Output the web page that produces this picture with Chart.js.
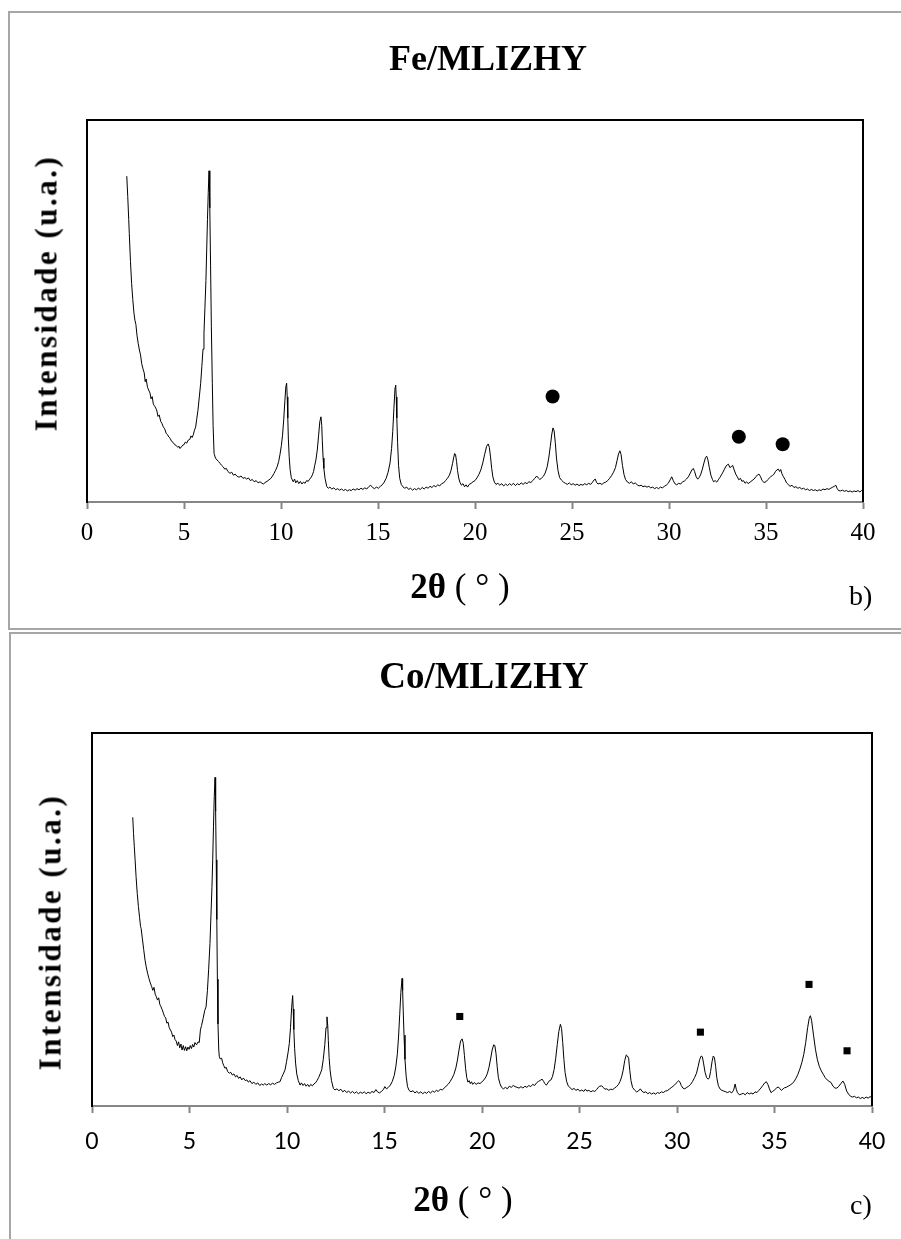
<!DOCTYPE html>
<html lang="pt">
<head>
<meta charset="utf-8">
<title>DRX Fe/MLIZHY e Co/MLIZHY</title>
<script src="https://cdn.jsdelivr.net/npm/chart.js@4.4.1/dist/chart.umd.min.js"></script>
<style>
  html, body { margin: 0; padding: 0; background: #fff; }
  body { position: relative; width: 901px; height: 1239px; overflow: hidden; }
  .frame { position: absolute; box-sizing: border-box; border: 2px solid #a6a6a6; border-right: none; }
  .wrap { position: absolute; left: 0; width: 901px; }
  .txt { position: absolute; font-family: "Liberation Serif", "Times New Roman", serif; color: #000;
         line-height: 1; white-space: nowrap; transform: translate(-50%, -50%); }
  .title { font-weight: bold; }
  .xlab { font-size: 35px; }
  .xlab b { font-weight: bold; }
  .ylab { font-size: 31px; font-weight: bold; letter-spacing: 2.5px; transform: translate(-50%, -50%) rotate(-90deg); }
  .tag { position: absolute; font-family: "Liberation Serif", serif; font-size: 28px; line-height: 28px; color: #000; }
</style>
</head>
<body>
<div class="frame" style="left:8px; top:11px; width:900px; height:619px;"></div>
<div class="frame" style="left:9px; top:632px; width:900px; height:640px;"></div>
<div class="wrap" style="top:0; height:630px;"><canvas id="chart-fe"></canvas></div>
<div class="wrap" style="top:630px; height:609px;"><canvas id="chart-co"></canvas></div>

<div class="txt title" style="left:488px; top:58px; font-size:36px;">Fe/MLIZHY</div>
<div class="txt ylab" style="left:46px; top:293px;">Intensidade (u.a.)</div>
<div class="txt xlab" style="left:460px; top:586px;"><b>2θ</b> ( ° )</div>
<div class="tag" style="left:849px; top:582px;">b)</div>

<div class="txt title" style="left:484px; top:675px; font-size:37px;">Co/MLIZHY</div>
<div class="txt ylab" style="left:50px; top:932px;">Intensidade (u.a.)</div>
<div class="txt xlab" style="left:463px; top:1199px;"><b>2θ</b> ( ° )</div>
<div class="tag" style="left:850px; top:1191px;">c)</div>

<script>
// 2θ (graus) e intensidade relativa (0 = eixo, 100 = topo da área do gráfico)
const feScan = [
  [2.05, 85.3], [2.10, 80], [2.15, 74], [2.18, 70.3], [2.24, 63], [2.30, 57.2], [2.36, 53], [2.42, 49.5],
  [2.47, 47.6], [2.52, 46.5], [2.58, 43.5], [2.64, 41.5], [2.70, 39.8], [2.76, 38.5], [2.82, 36.2], [2.90, 34.6],
  [2.95, 33.8], [3.00, 31.5], [3.05, 32.2], [3.12, 30.0], [3.18, 29.3], [3.25, 28.5], [3.30, 27.0], [3.36, 27.6],
  [3.42, 25.6], [3.50, 25.0], [3.59, 24.1], [3.66, 22.4], [3.72, 22.8], [3.80, 21.1], [3.86, 20.6], [3.93, 19.7],
  [4.00, 19.2], [4.08, 18.0], [4.15, 17.6], [4.22, 17.0], [4.28, 16.7], [4.36, 15.9], [4.44, 15.6], [4.52, 15.0],
  [4.60, 14.8], [4.68, 14.3], [4.74, 14.6], [4.79, 14.0], [4.86, 14.4], [4.94, 14.9], [5.00, 15.0], [5.07, 15.7],
  [5.14, 15.4], [5.22, 16.2], [5.30, 16.4], [5.36, 17.3], [5.42, 16.9], [5.48, 17.6], [5.54, 18.8], [5.60, 19.6],
  [5.65, 21.5], [5.72, 24.0], [5.79, 27.5], [5.86, 31.1], [5.92, 35.5], [5.98, 40.0], [6.03, 44.2], [6.08, 51],
  [6.13, 58], [6.17, 66.0], [6.21, 74], [6.25, 81], [6.29, 86.7], [6.33, 77], [6.37, 62], [6.41, 46],
  [6.46, 31.1], [6.50, 20], [6.55, 12.7], [6.62, 11.5], [6.70, 11.0], [6.78, 10.6], [6.86, 10.1], [6.94, 9.6],
  [7.02, 9.2], [7.10, 8.6], [7.18, 8.8], [7.26, 8.0], [7.37, 7.5], [7.46, 7.8], [7.55, 7.0], [7.64, 7.3],
  [7.74, 6.7], [7.84, 6.5], [7.94, 6.8], [8.04, 6.2], [8.14, 6.4], [8.23, 6.0], [8.32, 6.3], [8.42, 5.6],
  [8.52, 5.9], [8.62, 5.3], [8.72, 5.6], [8.82, 5.0], [8.92, 5.3], [9.02, 4.9], [9.09, 4.7], [9.18, 5.1],
  [9.28, 5.4], [9.38, 5.8], [9.48, 6.2], [9.56, 6.8], [9.64, 7.5], [9.72, 8.3], [9.80, 9.2], [9.88, 10.6],
  [9.95, 12.5], [10.02, 14.8], [10.08, 17.5], [10.14, 21.5], [10.20, 26.5], [10.25, 30.2], [10.29, 31.1], [10.32, 27.5],
  [10.35, 22], [10.38, 16.5], [10.42, 12], [10.47, 8.5], [10.53, 6.4], [10.58, 5.8], [10.63, 5.3], [10.70, 6.0], [10.76, 5.0],
  [10.84, 5.6], [10.92, 4.8], [11.00, 5.4], [11.08, 4.7], [11.16, 5.2], [11.24, 4.9], [11.32, 5.6], [11.40, 5.4],
  [11.48, 6.0], [11.56, 6.5], [11.62, 7.1], [11.68, 8.0], [11.74, 9.6], [11.80, 11.0], [11.87, 13.6], [11.94, 17.5],
  [12.00, 21.0], [12.06, 22.3], [12.10, 20.0], [12.13, 16], [12.17, 11.5], [12.21, 8.8], [12.27, 6.2], [12.36, 4.0],
  [12.44, 3.6], [12.52, 3.9], [12.62, 3.4], [12.72, 3.7], [12.82, 3.2], [12.92, 3.5], [13.02, 3.1], [13.12, 3.4],
  [13.22, 3.0], [13.32, 3.3], [13.42, 2.9], [13.52, 3.2], [13.62, 3.0], [13.72, 3.4], [13.82, 3.1], [13.92, 3.5],
  [14.02, 3.2], [14.12, 3.6], [14.22, 3.3], [14.32, 3.7], [14.42, 3.4], [14.52, 4.0], [14.62, 4.4], [14.72, 3.8],
  [14.82, 3.5], [14.92, 3.9], [15.02, 3.6], [15.12, 4.1], [15.22, 4.5], [15.32, 5.2], [15.42, 6.2], [15.52, 7.8],
  [15.62, 10.2], [15.70, 14.0], [15.76, 18.5], [15.82, 24.5], [15.88, 30.0], [15.91, 30.6], [15.94, 27.5], [15.97, 22],
  [16.01, 15.5], [16.06, 9.5], [16.12, 6.2], [16.20, 4.6], [16.28, 4.0], [16.38, 3.6], [16.48, 3.9], [16.58, 3.3],
  [16.68, 3.6], [16.78, 3.1], [16.88, 3.5], [16.98, 3.2], [17.08, 3.6], [17.18, 3.3], [17.28, 3.8], [17.38, 3.4],
  [17.48, 3.9], [17.58, 3.6], [17.68, 4.1], [17.78, 3.8], [17.88, 4.3], [17.98, 4.0], [18.08, 4.5], [18.18, 4.2],
  [18.28, 4.8], [18.38, 5.0], [18.48, 5.6], [18.58, 6.2], [18.68, 7.0], [18.76, 8.2], [18.84, 10.0], [18.90, 11.6],
  [18.95, 12.7], [19.00, 12.3], [19.05, 10.6], [19.10, 8.2], [19.16, 6.3], [19.22, 5.2], [19.30, 4.4], [19.38, 4.8],
  [19.46, 4.0], [19.54, 4.5], [19.62, 3.9], [19.70, 4.6], [19.80, 4.9], [19.90, 5.3], [20.00, 5.6], [20.10, 6.3],
  [20.20, 7.2], [20.30, 8.4], [20.40, 10.2], [20.50, 12.5], [20.60, 14.6], [20.68, 15.2], [20.74, 14.3], [20.80, 11.8],
  [20.86, 8.8], [20.92, 6.6], [21.00, 5.2], [21.08, 4.6], [21.18, 4.9], [21.28, 4.4], [21.38, 4.8], [21.48, 4.2],
  [21.58, 4.7], [21.68, 4.3], [21.78, 4.8], [21.88, 4.4], [21.98, 4.9], [22.08, 4.3], [22.18, 4.8], [22.28, 4.5],
  [22.38, 5.0], [22.48, 4.6], [22.58, 5.1], [22.68, 4.8], [22.78, 5.3], [22.88, 5.1], [22.98, 5.6], [23.08, 6.2],
  [23.18, 6.8], [23.26, 6.3], [23.34, 5.9], [23.42, 6.2], [23.52, 6.7], [23.62, 7.6], [23.72, 9.2], [23.80, 11.5],
  [23.88, 14.5], [23.96, 17.8], [24.02, 19.4], [24.08, 18.6], [24.14, 15.5], [24.20, 11.5], [24.28, 8.2], [24.36, 6.4],
  [24.46, 5.7], [24.56, 5.2], [24.66, 4.9], [24.76, 4.6], [24.86, 5.0], [24.96, 4.5], [25.06, 4.8], [25.16, 4.4],
  [25.26, 4.7], [25.36, 4.3], [25.46, 4.6], [25.56, 4.4], [25.66, 4.8], [25.76, 4.5], [25.86, 4.9], [25.96, 4.6],
  [26.06, 5.2], [26.14, 5.8], [26.20, 6.0], [26.26, 5.2], [26.34, 4.7], [26.44, 4.9], [26.54, 4.6], [26.64, 5.0],
  [26.74, 5.2], [26.84, 5.6], [26.94, 6.2], [27.04, 6.9], [27.14, 7.8], [27.24, 9.0], [27.32, 10.8], [27.40, 12.6],
  [27.47, 13.4], [27.53, 12.4], [27.60, 9.6], [27.68, 7.2], [27.76, 5.9], [27.86, 5.2], [27.96, 4.9], [28.06, 5.3],
  [28.16, 4.7], [28.26, 5.0], [28.36, 4.5], [28.46, 4.2], [28.56, 4.4], [28.66, 4.0], [28.76, 4.2], [28.86, 3.9],
  [28.96, 4.1], [29.06, 3.7], [29.16, 3.9], [29.26, 3.5], [29.36, 3.8], [29.46, 3.5], [29.56, 3.9], [29.66, 3.7],
  [29.76, 4.1], [29.86, 4.4], [29.96, 4.9], [30.06, 5.8], [30.14, 6.6], [30.22, 5.6], [30.30, 4.8], [30.40, 4.5],
  [30.50, 4.9], [30.60, 4.7], [30.70, 5.3], [30.80, 5.5], [30.90, 6.0], [31.00, 6.6], [31.10, 7.6], [31.18, 8.4],
  [31.25, 8.8], [31.32, 8.0], [31.40, 6.6], [31.48, 6.0], [31.56, 6.4], [31.64, 7.3], [31.72, 8.6], [31.80, 10.2],
  [31.88, 11.6], [31.94, 12.0], [32.00, 11.2], [32.08, 9.0], [32.16, 7.0], [32.24, 5.9], [32.30, 5.3], [32.38, 5.6],
  [32.46, 5.2], [32.54, 5.8], [32.62, 6.4], [32.70, 7.1], [32.78, 7.8], [32.86, 8.6], [32.94, 9.4], [33.00, 9.7],
  [33.06, 9.9], [33.14, 9.0], [33.20, 9.2], [33.28, 9.6], [33.36, 8.4], [33.44, 7.3], [33.52, 6.6], [33.60, 5.8],
  [33.68, 6.2], [33.76, 5.4], [33.84, 5.6], [33.92, 4.9], [34.00, 5.3], [34.08, 4.8], [34.18, 5.2], [34.28, 5.6],
  [34.38, 6.0], [34.48, 6.6], [34.56, 7.1], [34.64, 7.3], [34.72, 6.6], [34.80, 5.6], [34.90, 5.1], [35.00, 5.3],
  [35.08, 5.8], [35.16, 6.2], [35.24, 6.6], [35.32, 6.9], [35.40, 7.2], [35.48, 7.9], [35.56, 8.4], [35.64, 8.6],
  [35.70, 8.0], [35.76, 8.5], [35.82, 7.4], [35.90, 6.6], [35.98, 5.9], [36.06, 5.0], [36.14, 4.6], [36.24, 4.1],
  [36.34, 4.4], [36.44, 3.8], [36.54, 4.0], [36.64, 3.6], [36.74, 3.8], [36.84, 3.4], [36.94, 3.6], [37.04, 3.2],
  [37.14, 3.4], [37.24, 3.0], [37.34, 3.3], [37.44, 3.0], [37.54, 3.2], [37.64, 2.9], [37.74, 3.2], [37.84, 3.0],
  [37.94, 3.4], [38.04, 3.2], [38.14, 3.5], [38.24, 3.3], [38.34, 3.6], [38.44, 3.9], [38.52, 4.1], [38.60, 4.4],
  [38.66, 3.6], [38.74, 3.0], [38.84, 2.9], [38.94, 3.1], [39.04, 2.8], [39.14, 3.0], [39.24, 2.7], [39.34, 2.9],
  [39.44, 2.6], [39.54, 2.9], [39.64, 2.7], [39.74, 3.0], [39.84, 2.6], [39.92, 3.0], [40.00, 2.8],
];

const coScan = [
  [2.09, 77.4], [2.13, 73], [2.17, 69.5], [2.21, 66.0], [2.26, 61.5], [2.32, 57.0], [2.38, 53.5], [2.44, 50.5],
  [2.49, 48.1], [2.52, 47.6], [2.58, 45.0], [2.65, 42.0], [2.72, 39.1], [2.78, 37.3], [2.85, 35.6], [2.92, 34.2],
  [2.99, 33.0], [3.06, 32.0], [3.12, 31.0], [3.18, 31.8], [3.24, 30.0], [3.30, 29.3], [3.36, 28.4], [3.42, 29.0],
  [3.48, 27.2], [3.54, 26.6], [3.60, 25.8], [3.66, 24.9], [3.72, 24.0], [3.78, 23.6], [3.84, 22.2], [3.90, 22.5],
  [3.96, 21.0], [4.02, 20.4], [4.08, 19.8], [4.14, 18.6], [4.20, 19.0], [4.26, 17.8], [4.32, 17.4], [4.38, 16.2],
  [4.44, 17.2], [4.50, 15.6], [4.56, 16.6], [4.62, 15.0], [4.68, 16.2], [4.74, 14.9], [4.80, 15.9], [4.86, 14.8],
  [4.92, 15.8], [4.98, 15.2], [5.04, 16.2], [5.10, 15.4], [5.16, 16.5], [5.22, 15.8], [5.28, 17.0], [5.36, 16.4],
  [5.44, 17.2], [5.50, 17.0], [5.56, 20.4], [5.62, 21.6], [5.70, 23.5], [5.78, 25.6], [5.85, 26.6], [5.92, 31.0],
  [5.98, 36.5], [6.05, 43.6], [6.10, 51.0], [6.15, 58.5], [6.19, 66.0], [6.23, 75], [6.27, 83], [6.31, 88.1],
  [6.34, 79], [6.37, 66], [6.40, 50], [6.43, 34], [6.46, 22], [6.50, 15.0], [6.53, 13.2], [6.58, 12.6],
  [6.65, 12.8], [6.70, 11.6], [6.76, 10.8], [6.82, 10.1], [6.88, 10.4], [6.96, 9.2], [7.04, 8.8], [7.12, 9.0],
  [7.20, 8.3], [7.28, 8.6], [7.36, 7.8], [7.44, 8.2], [7.52, 7.4], [7.60, 7.8], [7.68, 7.0], [7.76, 7.5],
  [7.86, 6.8], [7.94, 7.0], [8.02, 6.4], [8.10, 6.8], [8.20, 6.0], [8.30, 6.4], [8.40, 5.8], [8.50, 6.2],
  [8.60, 5.5], [8.70, 5.9], [8.78, 5.6], [8.86, 6.0], [8.96, 5.6], [9.06, 6.0], [9.16, 5.7], [9.26, 6.1],
  [9.36, 5.8], [9.46, 6.2], [9.56, 6.4], [9.64, 6.5], [9.72, 7.6], [9.80, 8.5], [9.90, 9.7], [9.98, 12],
  [10.06, 14.5], [10.12, 16.8], [10.18, 21], [10.24, 26.5], [10.29, 29.6], [10.32, 26], [10.35, 20.5], [10.39, 15.5],
  [10.44, 11.5], [10.50, 8.6], [10.58, 6.8], [10.67, 5.6], [10.74, 6.2], [10.82, 5.5], [10.90, 6.0], [10.98, 5.3],
  [11.06, 5.8], [11.14, 5.2], [11.22, 5.8], [11.30, 5.4], [11.38, 5.9], [11.46, 6.2], [11.54, 6.8], [11.62, 7.6],
  [11.70, 8.6], [11.78, 9.7], [11.86, 12.5], [11.94, 16.5], [12.00, 21], [12.05, 23.9], [12.09, 21.5], [12.12, 17.5],
  [12.16, 13], [12.21, 9.6], [12.28, 6.8], [12.38, 4.7], [12.46, 4.3], [12.56, 4.6], [12.66, 4.1], [12.76, 4.5],
  [12.86, 3.8], [12.96, 4.2], [13.06, 3.6], [13.16, 4.0], [13.26, 3.5], [13.36, 3.9], [13.46, 3.4], [13.56, 3.8],
  [13.66, 3.3], [13.76, 3.7], [13.86, 3.4], [13.96, 3.8], [14.06, 3.3], [14.16, 3.7], [14.26, 3.4], [14.36, 3.9],
  [14.46, 3.6], [14.56, 4.4], [14.64, 3.8], [14.74, 3.5], [14.84, 3.9], [14.94, 4.4], [15.02, 5.2], [15.10, 4.6],
  [15.20, 5.0], [15.30, 5.6], [15.40, 6.6], [15.50, 8.2], [15.58, 10.5], [15.66, 14.0], [15.72, 18.5], [15.78, 24.5],
  [15.84, 30.5], [15.90, 34.2], [15.93, 31], [15.96, 25.5], [16.00, 19], [16.05, 12.5], [16.11, 8], [16.18, 5.2],
  [16.26, 4.2], [16.36, 3.8], [16.46, 4.1], [16.56, 3.5], [16.66, 3.9], [16.76, 3.4], [16.86, 3.8], [16.96, 3.3],
  [17.06, 3.7], [17.16, 3.4], [17.26, 3.9], [17.36, 3.5], [17.46, 4.0], [17.56, 3.7], [17.66, 4.2], [17.76, 3.9],
  [17.86, 4.5], [17.96, 4.3], [18.06, 4.8], [18.16, 5.3], [18.26, 5.8], [18.36, 6.5], [18.46, 7.4], [18.56, 8.5],
  [18.66, 10.2], [18.74, 12.3], [18.82, 15.0], [18.90, 17.4], [18.98, 18.0], [19.04, 16.8], [19.10, 13.5], [19.16, 10.0],
  [19.22, 7.6], [19.28, 6.4], [19.34, 6.8], [19.40, 6.0], [19.46, 6.5], [19.52, 5.8], [19.60, 6.3], [19.70, 5.8],
  [19.80, 6.2], [19.90, 6.0], [20.00, 6.5], [20.10, 7.0], [20.20, 7.8], [20.28, 8.8], [20.36, 10.4], [20.44, 12.6],
  [20.52, 15.0], [20.60, 16.4], [20.66, 16.2], [20.72, 14.0], [20.78, 10.5], [20.84, 7.6], [20.92, 6.0], [21.00, 5.0],
  [21.10, 4.6], [21.20, 5.0], [21.30, 4.6], [21.40, 5.3], [21.50, 5.0], [21.60, 5.5], [21.70, 5.2], [21.80, 5.0],
  [21.90, 4.8], [22.00, 5.2], [22.10, 4.8], [22.20, 5.3], [22.30, 5.0], [22.40, 5.5], [22.50, 5.2], [22.60, 5.8],
  [22.70, 5.5], [22.80, 6.2], [22.90, 6.6], [23.00, 6.9], [23.08, 7.2], [23.16, 6.6], [23.22, 6.0], [23.30, 5.6],
  [23.38, 6.2], [23.46, 6.8], [23.54, 7.0], [23.62, 8.0], [23.70, 9.8], [23.78, 12.8], [23.86, 16.5], [23.94, 20.0],
  [24.02, 21.9], [24.08, 20.8], [24.14, 17.0], [24.20, 12.5], [24.26, 9.0], [24.34, 6.6], [24.42, 5.4], [24.52, 4.9],
  [24.62, 4.4], [24.72, 4.7], [24.82, 4.2], [24.92, 4.5], [25.02, 4.0], [25.12, 4.3], [25.22, 3.9], [25.30, 4.5],
  [25.38, 4.0], [25.48, 4.2], [25.58, 3.8], [25.68, 4.1], [25.78, 3.9], [25.88, 4.4], [25.96, 5.0], [26.04, 5.3],
  [26.14, 5.4], [26.22, 5.0], [26.30, 4.5], [26.40, 4.6], [26.50, 4.2], [26.60, 4.5], [26.70, 4.4], [26.80, 4.8],
  [26.90, 5.2], [27.00, 5.8], [27.08, 6.6], [27.16, 7.8], [27.24, 9.6], [27.32, 12.2], [27.40, 13.7], [27.46, 13.4],
  [27.52, 12.8], [27.58, 9.5], [27.64, 6.8], [27.72, 5.0], [27.82, 4.3], [27.92, 3.8], [28.02, 4.0], [28.12, 4.6],
  [28.20, 4.0], [28.30, 3.6], [28.40, 3.8], [28.50, 3.3], [28.60, 3.6], [28.70, 3.2], [28.80, 3.5], [28.90, 3.2],
  [29.00, 3.6], [29.10, 3.4], [29.20, 3.8], [29.30, 3.6], [29.40, 4.0], [29.50, 4.1], [29.60, 4.5], [29.70, 4.9],
  [29.80, 5.3], [29.90, 5.8], [30.00, 6.3], [30.08, 6.8], [30.14, 6.5], [30.22, 5.5], [30.30, 4.8], [30.40, 4.6],
  [30.50, 5.0], [30.60, 5.3], [30.70, 5.8], [30.80, 6.6], [30.90, 7.6], [31.00, 8.8], [31.08, 10.5], [31.16, 12.4],
  [31.24, 13.4], [31.30, 13.2], [31.36, 11.5], [31.44, 9.0], [31.52, 7.6], [31.60, 7.2], [31.66, 7.6], [31.72, 9.2],
  [31.80, 12.0], [31.86, 13.4], [31.92, 13.0], [31.98, 10.6], [32.04, 7.6], [32.12, 5.5], [32.20, 4.6], [32.30, 4.2],
  [32.40, 4.0], [32.50, 3.8], [32.60, 3.6], [32.70, 3.9], [32.80, 3.5], [32.90, 4.2], [32.98, 5.9], [33.04, 4.5],
  [33.10, 3.6], [33.20, 3.0], [33.30, 3.2], [33.40, 3.4], [33.50, 3.0], [33.60, 3.6], [33.70, 3.2], [33.80, 3.5],
  [33.90, 3.2], [34.00, 3.8], [34.10, 3.6], [34.20, 4.2], [34.30, 4.8], [34.40, 5.5], [34.50, 6.2], [34.58, 6.5],
  [34.66, 5.8], [34.74, 4.6], [34.82, 3.6], [34.90, 3.9], [35.00, 4.3], [35.10, 4.8], [35.20, 5.1], [35.28, 4.6],
  [35.36, 4.2], [35.44, 4.6], [35.52, 4.9], [35.60, 5.0], [35.70, 5.3], [35.80, 5.6], [35.90, 6.0], [36.00, 6.5],
  [36.10, 7.4], [36.20, 8.5], [36.30, 9.9], [36.40, 11.6], [36.50, 13.8], [36.60, 17.0], [36.70, 21.0], [36.78, 23.5],
  [36.84, 24.2], [36.90, 23.0], [37.00, 19.0], [37.10, 15.2], [37.20, 12.4], [37.30, 10.6], [37.40, 9.4], [37.50, 8.5],
  [37.60, 7.6], [37.70, 7.0], [37.80, 6.6], [37.90, 6.3], [38.00, 5.3], [38.10, 4.8], [38.20, 4.8], [38.30, 5.3],
  [38.40, 6.0], [38.51, 6.7], [38.60, 5.8], [38.70, 4.0], [38.80, 3.2], [38.90, 2.6], [39.00, 2.4], [39.10, 2.6],
  [39.20, 2.2], [39.30, 2.4], [39.40, 2.0], [39.50, 2.3], [39.60, 2.0], [39.70, 2.4], [39.80, 2.1], [39.90, 2.5],
  [40.00, 2.3],
];

// marcadores de fase
const feMarkerAngles = [24.0, 33.6, 35.86];
const feMarkerHeights = [27.6, 17.1, 15.1];
const coMarkerAngles = [18.86, 31.2, 36.77, 38.72];
const coMarkerHeights = [24.0, 19.8, 32.6, 14.8];

const xTicks = { min: 0, max: 40, step: 5 };

const SERIF = '"Liberation Serif", "Times New Roman", serif';
const AXIS_GRAY = "#868686";

// moldura preta em cima e à direita da área do gráfico
const plotFrame = {
  id: "plotFrame",
  afterDraw(chart) {
    const { ctx, chartArea: a } = chart;
    ctx.save();
    ctx.strokeStyle = "#000";
    ctx.lineWidth = 2;
    ctx.beginPath();
    ctx.moveTo(a.left, a.top);
    ctx.lineTo(a.right, a.top);
    ctx.lineTo(a.right, a.bottom);
    ctx.stroke();
    ctx.restore();
  },
};

function toPoints(pairs) {
  return pairs.map(([x, y]) => ({ x, y }));
}

function zipPoints(xs, ys) {
  return xs.map((x, i) => ({ x, y: ys[i] }));
}

function buildChart(canvasId, cfg) {
  return new Chart(document.getElementById(canvasId), {
    type: "scatter",
    data: {
      datasets: [
        {
          data: toPoints(cfg.scan),
          showLine: true,
          borderColor: "#000",
          borderWidth: 1,
          borderJoinStyle: "round",
          pointRadius: 0,
          tension: 0,
        },
        {
          data: zipPoints(cfg.markerX, cfg.markerY),
          pointStyle: cfg.markerStyle,
          pointRadius: cfg.markerRadius,
          backgroundColor: "#000",
          borderColor: "#000",
          borderWidth: 0,
        },
      ],
    },
    options: {
      responsive: true,
      maintainAspectRatio: false,
      animation: false,
      events: [],
      layout: { padding: cfg.padding },
      plugins: {
        legend: { display: false },
        tooltip: { enabled: false },
        title: { display: false },
      },
      scales: {
        x: {
          type: "linear",
          min: xTicks.min,
          max: xTicks.max,
          afterFit: (scale) => { scale.height = 60; },
          ticks: {
            stepSize: xTicks.step,
            color: "#000",
            padding: cfg.tickPadding,
            font: cfg.tickFont,
          },
          grid: {
            display: true,
            drawOnChartArea: false,
            drawTicks: true,
            tickLength: 7,
            tickWidth: 2,
            tickColor: AXIS_GRAY,
          },
          border: { display: true, color: AXIS_GRAY, width: 2 },
        },
        y: {
          min: 0,
          max: 100,
          afterFit: (scale) => { scale.width = 0; },
          ticks: { display: false },
          grid: { display: false, drawTicks: false },
          border: { display: true, color: "#000", width: 2 },
        },
      },
    },
    plugins: [plotFrame],
  });
}

buildChart("chart-fe", {
  scan: feScan,
  markerX: feMarkerAngles,
  markerY: feMarkerHeights,
  markerStyle: "circle",
  markerRadius: 7,
  padding: { left: 87, top: 120, right: 38, bottom: 68 },
  tickPadding: 9,
  tickFont: { family: SERIF, size: 25 },
});

buildChart("chart-co", {
  scan: coScan,
  markerX: coMarkerAngles,
  markerY: coMarkerHeights,
  markerStyle: "rect",
  markerRadius: 5,
  padding: { left: 92, top: 103, right: 29, bottom: 73 },
  tickPadding: 15,
  tickFont: { family: "Lato, 'Open Sans', sans-serif", size: 23 },
});
</script>
</body>
</html>
